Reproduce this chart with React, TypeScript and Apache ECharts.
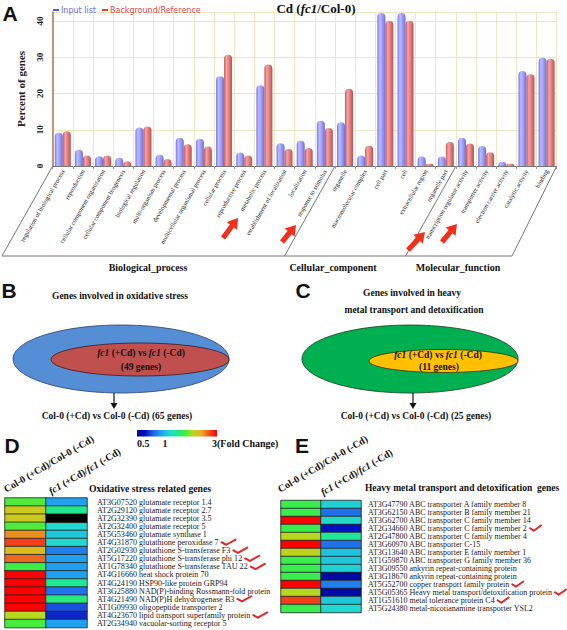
import React, { useEffect, useRef } from 'react';
import * as echarts from 'echarts';

// ---------- Panel A data ----------
const goCategories = [
  'regulation of biological process', 'reproduction', 'cellular component organization',
  'cellular component biogenesis', 'biological regulation', 'multi-organism process',
  'developmental process', 'multicellular organismal process', 'cellular process',
  'reproductive process', 'metabolic process', 'establishment of localization',
  'localization', 'response to stimulus',
  'organelle', 'macromolecular complex', 'cell part', 'cell', 'extracellular region', 'organelle part',
  'transcription regulator activity', 'transporter activity', 'electron carrier activity',
  'catalytic activity', 'binding',
];
const inputList = [9.2, 4.5, 2.7, 2.3, 10.6, 3.1, 7.8, 7.5, 24.8, 3.7, 22.3, 6.3, 7.0, 12.5,
  12.1, 2.9, 42.2, 42.2, 2.6, 2.6, 7.8, 5.5, 1.2, 26.2, 29.9];
const backgroundRef = [9.6, 2.9, 2.9, 1.3, 10.9, 1.9, 6.0, 5.4, 30.7, 2.9, 28.0, 4.7, 5.0, 10.5,
  21.3, 5.6, 40.1, 40.1, 0.6, 6.6, 6.2, 3.8, 0.6, 25.3, 29.6];
const goGroups = ['Biological_process', 'Cellular_component', 'Molecular_function'];

// ---------- Panel D data ----------
const heatCols = ['Col-0 (+Cd)/Col-0 (-Cd)', 'fc1 (+Cd)/fc1 (-Cd)'];
const genesD = [
  'AT3G07520 glutamate receptor 1.4', 'AT2G29120 glutamate receptor 2.7',
  'AT2G32390 glutamate receptor 3.5', 'AT2G32400 glutamate receptor 5',
  'AT5G53460 glutamate synthase 1', 'AT4G31870 glutathione peroxidase 7',
  'AT2G02930 glutathione S-transferase F3', 'AT5G17220 glutathione S-transferase phi 12',
  'AT1G78340 glutathione S-transferase TAU 22', 'AT4G16660 heat shock protein 70',
  'AT4G24190 HSP90-like protein GRP94', 'AT3G25880 NAD(P)-binding Rossmann-fold protein',
  'AT4G21490 NAD(P)H dehydrogenase B3', 'AT1G09930 oligopeptide transporter 2',
  'AT4G23670 lipid transport superfamily protein', 'AT2G34940 vacuolar-sorting receptor 5',
];
const checkD = [false, false, false, false, false, true, true, true, true, false, false, false, true, false, true, false];
const fcD_col = [1.5, 1.88, 1.88, 1.5, 2.24, 2.6, 2.0, 2.4, 1.44, 3.0, 3.0, 3.0, 3.0, 3.0, 1.75, 1.48];
const fcD_fc1: (number | null)[] = [0.86, 1.22, null, 1.02, 0.97, 1.04, 0.78, 0.86, 0.86, 0.86, 1.22, 0.75, 1.28, 0.69, 0.63, 0.86];

// ---------- Panel E data ----------
const genesE = [
  'AT3G47790 ABC transporter A family member 8', 'AT3G62150 ABC transporter B family member 21',
  'AT3G62700 ABC transporter C family member 14', 'AT2G34660 ABC transporter C family member 2',
  'AT2G47800 ABC transporter C family member 4', 'AT3G60970 ABC transporter C-15',
  'AT3G13640 ABC transporter E family member 1', 'AT1G59870 ABC transporter G family member 36',
  'AT3G09550 ankyrin repeat-containing protein', 'AT3G18670 ankyrin repeat-containing protein',
  'AT5G52700 copper transport family protein', 'AT5G05365 Heavy metal transport/detoxification protein',
  'AT1G51610 metal tolerance protein C4', 'AT5G24380 metal-nicotianamine transporter YSL2',
];
const checkE = [false, false, false, true, false, false, false, false, false, false, true, true, true, false];
const fcE_col = [1.42, 1.42, 3.0, 1.42, 1.75, 3.0, 1.8, 1.42, 1.42, 1.42, 3.0, 1.75, 2.6, 1.42];
const fcE_fc1 = [1.0, 0.75, 1.05, 0.6, 1.2, 0.75, 0.95, 0.97, 1.0, 0.55, 0.78, 0.56, 0.97, 1.02];

// colour scale (fold change, log-spaced)
const scaleMin = 0.5;
const scaleMax = 3;
const heatColors = ['#000080', '#0010c0', '#2060e8', '#20a0f0', '#20d8d0', '#20e890',
  '#40ee40', '#b8d820', '#e8b020', '#f05020', '#ff0000'];

const serif = "'Liberation Serif', 'Times New Roman', serif";
const sans = "'Liberation Sans', Arial, sans-serif";

// heatmap layouts
const hmD = { left: 5, top: 498, width: 82, rowH: 8.1, margin: 10, font: 8.1, checkW: 14 };
const hmE = { left: 281, top: 500.5, width: 80, rowH: 8.0, margin: 7, font: 8, checkW: 11 };

function arrowPoints(x1: number, y1: number, x2: number, y2: number, shaft = 2.6, head = 6.5, headLen = 10) {
  const dx = x2 - x1, dy = y2 - y1;
  const L = Math.hypot(dx, dy);
  const ux = dx / L, uy = dy / L;
  const px = -uy, py = ux;
  const bx = x2 - ux * headLen, by = y2 - uy * headLen;
  return [
    [x1 + px * shaft, y1 + py * shaft], [bx + px * shaft, by + py * shaft], [bx + px * head, by + py * head],
    [x2, y2], [bx - px * head, by - py * head], [bx - px * shaft, by - py * shaft], [x1 - px * shaft, y1 - py * shaft],
  ];
}

function txt(x: number, y: number, text: string, o: any = {}) {
  const { align = 'center', vAlign = 'middle', size = 10, weight = 'bold', family = serif, color = '#111', rich, rotation } = o;
  const el: any = {
    type: 'text', x, y, z: 20,
    style: {
      text, fontSize: size, fontWeight: weight, fontFamily: family, fill: color,
      align, textAlign: align, verticalAlign: vAlign, textVerticalAlign: vAlign,
    },
  };
  if (rich) el.style.rich = rich;
  if (rotation) el.rotation = rotation;
  return el;
}

function richSet(size: number) {
  return {
    n: { fontSize: size, fontWeight: 'bold', fontFamily: serif, fill: '#111', color: '#111' },
    i: { fontSize: size, fontWeight: 'bold', fontStyle: 'italic', fontFamily: serif, fill: '#111', color: '#111' },
  };
}

let measureCtx: CanvasRenderingContext2D | null = null;
function textWidth(s: string, size: number) {
  if (!measureCtx) measureCtx = document.createElement('canvas').getContext('2d');
  if (!measureCtx) return s.length * size * 0.45;
  measureCtx.font = `${size}px "Liberation Serif"`;
  return measureCtx.measureText(s).width;
}

function checkMarks(hm: typeof hmD, genes: string[], checks: boolean[]) {
  const out: any[] = [];
  genes.forEach((g, i) => {
    if (!checks[i]) return;
    const x = hm.left + hm.width + hm.margin + textWidth(g, hm.font) + 3;
    const y = hm.top + (i + 0.5) * hm.rowH;
    const w = hm.checkW;
    out.push({
      type: 'polyline', z: 25,
      shape: { points: [[x, y - 0.3], [x + w * 0.33, y + 2.2], [x + w, y - 3]] },
      style: { stroke: '#e3262a', lineWidth: 2, fill: null, lineJoin: 'round', lineCap: 'round' },
    });
  });
  return out;
}

function buildOption() {
  const blueGrad = {
    type: 'linear', x: 0, y: 0, x2: 1, y2: 0,
    colorStops: [
      { offset: 0, color: '#7474e6' }, { offset: 0.3, color: '#bcbcff' },
      { offset: 0.65, color: '#9a9af6' }, { offset: 1, color: '#6c6cdc' },
    ],
  };
  const redGrad = {
    type: 'linear', x: 0, y: 0, x2: 1, y2: 0,
    colorStops: [
      { offset: 0, color: '#c65656' }, { offset: 0.3, color: '#f2a4a4' },
      { offset: 0.65, color: '#e07a7a' }, { offset: 1, color: '#bf4e4e' },
    ],
  };
  const lg = (v: number) => Math.log2(v);
  const heatD: any[] = [];
  const heatE: any[] = [];
  const naCells: any[] = [];
  fcD_col.forEach((v, i) => heatD.push([0, i, lg(v)]));
  fcD_fc1.forEach((v, i) => (v == null ? naCells.push([1, i, 0]) : heatD.push([1, i, lg(v)])));
  fcE_col.forEach((v, i) => heatE.push([0, i, lg(v)]));
  fcE_fc1.forEach((v, i) => heatE.push([1, i, lg(v)]));

  const geneAxis = (grid: number, data: string[], hm: typeof hmD) => ({
    type: 'category', gridIndex: grid, data, inverse: true, position: 'right',
    axisLine: { show: false }, axisTick: { show: false }, splitLine: { show: false },
    axisLabel: {
      interval: 0, margin: hm.margin, fontSize: hm.font, fontFamily: serif, color: '#222', lineHeight: hm.rowH,
    },
  });

  const gridLine = '#eee8c2';
  const colorStops = heatColors.map((c, i) => ({ offset: i / (heatColors.length - 1), color: c }));

  const arrows = [
    [223, 238, 238, 218], [282, 242, 296, 225], [408, 250, 425, 232], [442, 242, 457, 224],
  ].map(([a, b, c, d]) => ({
    type: 'polygon', z: 20, shape: { points: arrowPoints(a, b, c, d) }, style: { fill: '#f0301a' },
  }));

  const graphic: any[] = [
    // panel letters
    txt(10, 13, 'A', { size: 21, family: sans }),
    txt(9, 290, 'B', { size: 21, family: sans }),
    txt(303, 290, 'C', { size: 21, family: sans }),
    txt(12, 445, 'D', { size: 21, family: sans }),
    txt(302, 445, 'E', { size: 21, family: sans }),
    // title A
    txt(316, 8, '{n|Cd (}{i|fc1}{n|/Col-0)}', { size: 13, rich: richSet(13) }),
    // floor of panel A
    {
      type: 'polyline', z: 5,
      shape: { points: [[52.7, 166], [2, 256], [512, 256], [556.7, 166]] },
      style: { stroke: '#777', lineWidth: 1, fill: null },
    },
    { type: 'line', z: 5, shape: { x1: 335, y1: 166, x2: 284.5, y2: 256 }, style: { stroke: '#777', lineWidth: 1 } },
    { type: 'line', z: 5, shape: { x1: 456, y1: 166, x2: 405.5, y2: 256 }, style: { stroke: '#777', lineWidth: 1 } },
    txt(148, 267, goGroups[0], { size: 10 }),
    txt(333, 267, goGroups[1], { size: 10 }),
    txt(458, 267, goGroups[2], { size: 10 }),
    ...arrows,
    // panel B
    txt(120, 296, 'Genes involved in oxidative stress', { size: 9.5 }),
    {
      type: 'ellipse', z: 10, shape: { cx: 121, cy: 359, rx: 108, ry: 34 },
      style: { fill: '#558ed5', stroke: '#2a3f66', lineWidth: 0.8 },
    },
    {
      type: 'ellipse', z: 11, shape: { cx: 140, cy: 359.5, rx: 89, ry: 16.5 },
      style: { fill: '#c0504d', stroke: '#3a1a1a', lineWidth: 0.8 },
    },
    txt(141, 353, '{i|fc1}{n| (+Cd) vs }{i|fc1}{n| (-Cd)}', { size: 9.5, rich: richSet(9.5) }),
    txt(141, 367, '(49 genes)', { size: 9.5 }),
    { type: 'line', z: 12, shape: { x1: 114, y1: 393, x2: 114, y2: 405 }, style: { stroke: '#111', lineWidth: 1.2 } },
    { type: 'polygon', z: 12, shape: { points: [[110.5, 403], [117.5, 403], [114, 409]] }, style: { fill: '#111' } },
    txt(117, 416, 'Col-0 (+Cd) vs Col-0 (-Cd) (65 genes)', { size: 9.5 }),
    // panel C
    txt(412, 293, 'Genes involved in heavy', { size: 9.5 }),
    txt(414, 310, 'metal transport and detoxification', { size: 9.5 }),
    {
      type: 'ellipse', z: 10, shape: { cx: 410, cy: 359, rx: 108, ry: 34 },
      style: { fill: '#00b050', stroke: '#1a3a1a', lineWidth: 0.8 },
    },
    {
      type: 'ellipse', z: 11, shape: { cx: 443.5, cy: 361, rx: 74.5, ry: 11.5 },
      style: { fill: '#ffc000', stroke: '#3a3010', lineWidth: 0.8 },
    },
    txt(438, 355, '{i|fc1}{n| (+Cd) vs }{i|fc1}{n| (-Cd)}', { size: 9.5, rich: richSet(9.5) }),
    txt(439, 367, '(11 genes)', { size: 9.5 }),
    { type: 'line', z: 12, shape: { x1: 413, y1: 393, x2: 413, y2: 405 }, style: { stroke: '#111', lineWidth: 1.2 } },
    { type: 'polygon', z: 12, shape: { points: [[409.5, 403], [416.5, 403], [413, 409]] }, style: { fill: '#111' } },
    txt(416, 416, 'Col-0 (+Cd) vs Col-0 (-Cd) (25 genes)', { size: 9.5 }),
    // colour scale
    {
      type: 'rect', z: 10, shape: { x: 137, y: 430, width: 80, height: 6.5 },
      style: { fill: { type: 'linear', x: 0, y: 0, x2: 1, y2: 0, colorStops } },
    },
    txt(137, 443, String(scaleMin), { size: 10, align: 'left' }),
    txt(165, 443, '1', { size: 10 }),
    txt(212, 443, `${scaleMax}(Fold Change)`, { size: 10, align: 'left' }),
    // panel D headers
    txt(7, 494, '{n|Col-0 (+Cd)/Col-0 (-Cd)}', { align: 'left', vAlign: 'bottom', rich: richSet(10), rotation: 0.53 }),
    txt(52, 496, '{i|fc1}{n| (+Cd)/}{i|fc1}{n| (-Cd)}', { align: 'left', vAlign: 'bottom', rich: richSet(10), rotation: 0.53 }),
    txt(150, 488, 'Oxidative stress related genes', { size: 9.7 }),
    // panel E headers
    txt(281, 494, '{n|Col-0 (+Cd)/Col-0 (-Cd)}', { align: 'left', vAlign: 'bottom', rich: richSet(10), rotation: 0.53 }),
    txt(324, 497, '{i|fc1}{n| (+Cd)/}{i|fc1}{n| (-Cd)}', { align: 'left', vAlign: 'bottom', rich: richSet(10), rotation: 0.53 }),
    txt(462, 488, 'Heavy metal transport and detoxification  genes', { size: 9.5 }),
    ...checkMarks(hmD, genesD, checkD),
    ...checkMarks(hmE, genesE, checkE),
  ];

  return {
    animation: false,
    backgroundColor: '#fff',
    legend: {
      left: 48, top: 1, itemWidth: 6, itemHeight: 2, icon: 'rect', itemGap: 6,
      textStyle: { fontSize: 8, fontFamily: 'DejaVu Sans', padding: [0, 0, 0, -3] },
      selectedMode: false,
      data: [
        { name: 'Input list', itemStyle: { color: '#5a5ae8' }, textStyle: { color: '#6a6af0' } },
        { name: 'Background/Reference', itemStyle: { color: '#e04040' }, textStyle: { color: '#e04848' } },
      ],
    },
    grid: [
      { left: 52.7, top: 12, width: 504, height: 154 },
      { left: hmD.left, top: hmD.top, width: hmD.width, height: hmD.rowH * genesD.length },
      { left: hmE.left, top: hmE.top, width: hmE.width, height: hmE.rowH * genesE.length },
    ],
    xAxis: [
      {
        type: 'category', gridIndex: 0, data: goCategories,
        axisLine: { lineStyle: { color: '#777' } },
        axisTick: { show: true, length: 3, lineStyle: { color: '#999' } },
        axisLabel: { interval: 0, rotate: 60, fontSize: 6.5, fontFamily: serif, color: '#222', margin: 4 },
        splitLine: { show: true, interval: 0, lineStyle: { color: gridLine } },
      },
      { type: 'category', gridIndex: 1, data: heatCols, show: false },
      { type: 'category', gridIndex: 2, data: heatCols, show: false },
    ],
    yAxis: [
      {
        type: 'value', gridIndex: 0, min: 0, max: 42.5, interval: 10,
        name: 'Percent of genes', nameLocation: 'middle', nameGap: 26,
        nameTextStyle: { fontFamily: serif, fontWeight: 'bold', fontSize: 11, color: '#222' },
        axisLine: { show: true, lineStyle: { color: '#a57a5a', width: 1.5 } },
        axisTick: { show: false },
        axisLabel: {
          rotate: 90, fontFamily: serif, fontWeight: 'bold', fontSize: 9, color: '#222', margin: 8,
          formatter: (v: number) => (v % 10 === 0 ? String(v) : ''),
        },
        splitLine: { lineStyle: { color: gridLine } },
      },
      geneAxis(1, genesD, hmD),
      geneAxis(2, genesE, hmE),
    ],
    visualMap: [
      {
        type: 'continuous', show: false, min: lg(scaleMin), max: lg(scaleMax),
        seriesIndex: [2, 3], dimension: 2, inRange: { color: heatColors },
      },
      {
        type: 'continuous', show: false, min: -1, max: 1,
        seriesIndex: [4], dimension: 2, inRange: { color: ['#000000', '#000000'] },
      },
    ],
    series: [
      {
        type: 'bar', name: 'Input list', data: inputList, barWidth: 8, barGap: '0%',
        itemStyle: { color: blueGrad, borderRadius: [4, 4, 0, 0] },
      },
      {
        type: 'bar', name: 'Background/Reference', data: backgroundRef, barWidth: 8, barGap: '0%',
        itemStyle: { color: redGrad, borderRadius: [4, 4, 0, 0] },
      },
      {
        type: 'heatmap', xAxisIndex: 1, yAxisIndex: 1, data: heatD,
        itemStyle: { borderColor: '#222', borderWidth: 0.8 }, emphasis: { disabled: true },
      },
      {
        type: 'heatmap', xAxisIndex: 2, yAxisIndex: 2, data: heatE,
        itemStyle: { borderColor: '#222', borderWidth: 0.8 }, emphasis: { disabled: true },
      },
      {
        type: 'heatmap', xAxisIndex: 1, yAxisIndex: 1, data: naCells,
        itemStyle: { borderColor: '#222', borderWidth: 0.8 }, emphasis: { disabled: true },
      },
    ],
    graphic,
  };
}

export default function App() {
  const ref = useRef<HTMLDivElement>(null);
  useEffect(() => {
    const chart = echarts.init(ref.current!, null, { renderer: 'svg' });
    chart.setOption(buildOption() as any);
    return () => chart.dispose();
  }, []);
  return (
    <div
      ref={ref}
      style={{ position: 'fixed', left: 0, top: 0, width: 567, height: 630, background: '#fff' }}
    />
  );
}
